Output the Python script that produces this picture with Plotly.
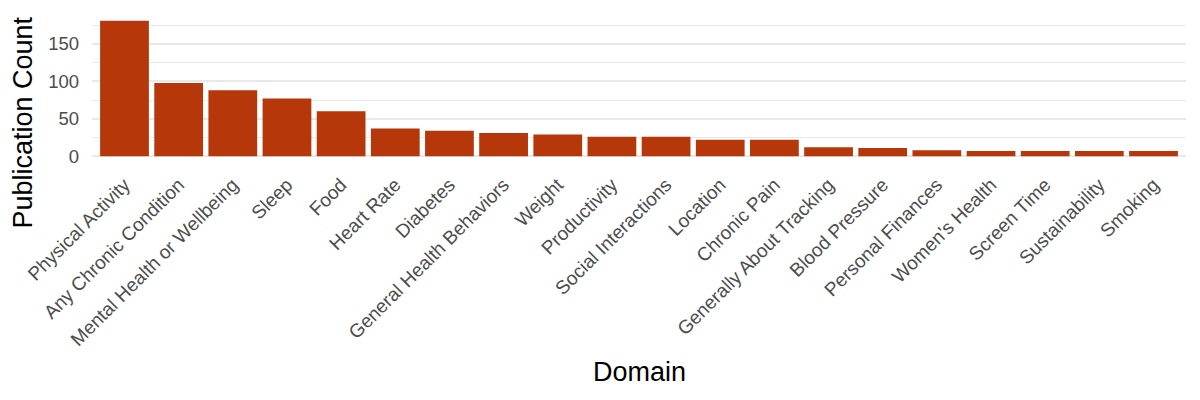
import plotly.graph_objects as go

domains = [
    "Physical Activity", "Any Chronic Condition", "Mental Health or Wellbeing",
    "Sleep", "Food", "Heart Rate", "Diabetes", "General Health Behaviors",
    "Weight", "Productivity", "Social Interactions", "Location", "Chronic Pain",
    "Generally About Tracking", "Blood Pressure", "Personal Finances",
    "Women's Health", "Screen Time", "Sustainability", "Smoking",
]
counts = [181, 98, 88, 77, 60, 37, 34, 31, 29, 26, 26, 22, 22, 12, 11, 8, 7, 7, 7, 7]

bar_color = "#B5370A"
grid = "#E8E8E8"
font = "Liberation Sans, Arial, sans-serif"

fig = go.Figure(go.Bar(x=domains, y=counts, marker_color=bar_color,
                       marker_line_width=0, width=0.9))

# the page has an 8px body margin, so margins are shifted to compensate
fig.update_layout(
    width=1200, height=400,
    plot_bgcolor="white", paper_bgcolor="white",
    margin=dict(l=84, r=22, t=6, b=245),
    font=dict(family=font, color="#4D4D4D"),
    showlegend=False,
)
fig.update_xaxes(
    range=[-0.6, len(domains) - 0.4],
    tickangle=-45, tickfont=dict(size=19, color="#4D4D4D"),
    showgrid=False, showline=False, ticks="", ticklabelstandoff=6,
    automargin=False,
)
fig.update_yaxes(
    range=[-9.05, 190.05], tick0=0, dtick=50,
    tickfont=dict(size=18.5, color="#4D4D4D"),
    showgrid=True, gridcolor=grid, gridwidth=2,
    minor=dict(tick0=25, dtick=50, showgrid=True, gridcolor=grid, gridwidth=1.3),
    zeroline=False, showline=False, ticks="", ticklabelstandoff=12,
    automargin=False,
)

fig.add_annotation(text="Publication Count", textangle=-90, showarrow=False,
                   xref="paper", yref="paper", x=-0.063, y=0.272,
                   xanchor="center", yanchor="middle",
                   font=dict(size=27, color="black"))
fig.add_annotation(text="Domain", showarrow=False,
                   xref="paper", yref="paper", x=0.5, y=-1.40,
                   xanchor="center", yanchor="middle",
                   font=dict(size=27, color="black"))

fig.write_html("out.html")
